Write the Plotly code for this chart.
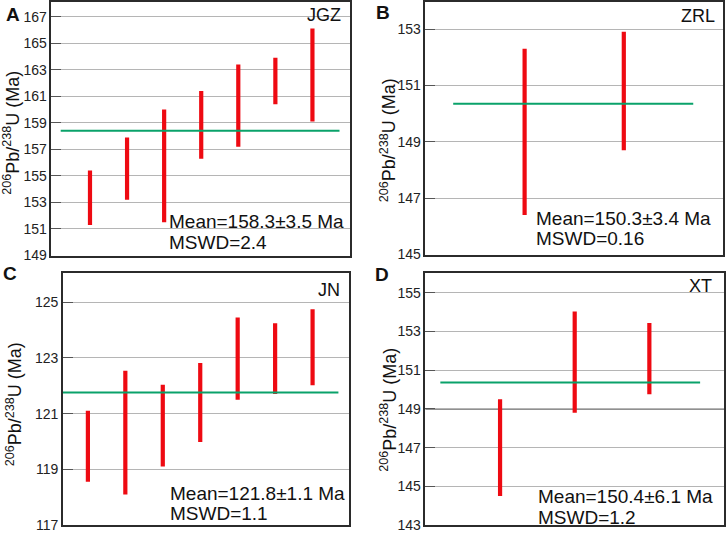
import plotly.graph_objects as go

W, H = 726, 534
FIG_H = 541  # the capture squeezes the page a little vertically
FONT = "Liberation Sans, Arial, sans-serif"

# ---- data (2-sigma age ranges, Ma) ----
jgz_lo = [151.3, 153.2, 151.5, 156.3, 157.2, 160.4, 159.1]
jgz_hi = [155.4, 157.9, 160.0, 161.4, 163.4, 163.9, 166.1]
jgz_mean = 158.4

zrl_lo = [146.4, 148.7]
zrl_hi = [152.3, 152.9]
zrl_mean = 150.35

jn_lo = [118.55, 118.1, 119.1, 119.98, 121.5, 121.7, 122.02]
jn_hi = [121.1, 122.54, 122.04, 122.82, 124.45, 124.24, 124.75]
jn_mean = 121.76

xt_lo = [144.5, 148.8, 149.76]
xt_hi = [149.5, 154.04, 153.44]
xt_mean = 150.36

panels = [
    dict(letter="A", name="JGZ", lo=jgz_lo, hi=jgz_hi, mean=jgz_mean,
         stats=["Mean=158.3±3.5 Ma", "MSWD=2.4"]),
    dict(letter="B", name="ZRL", lo=zrl_lo, hi=zrl_hi, mean=zrl_mean,
         stats=["Mean=150.3±3.4 Ma", "MSWD=0.16"]),
    dict(letter="C", name="JN", lo=jn_lo, hi=jn_hi, mean=jn_mean,
         stats=["Mean=121.8±1.1 Ma", "MSWD=1.1"]),
    dict(letter="D", name="XT", lo=xt_lo, hi=xt_hi, mean=xt_mean,
         stats=["Mean=150.4±6.1 Ma", "MSWD=1.2"]),
]

# layout of each panel in pixels: box, axis ranges, mean line extent, text spots
geom = [
    dict(box=(51.5, 350, 2, 256), xr=(-0.04, 8), yr=(149, 168.1), yt=(149, 167),
         line=(0.21, 7.73), letter=(13, 15), name=(343, 15), stats=(167, 222, 243),
         ytitle=(12, 133)),
    dict(box=(426, 724, 2, 255), xr=(0, 3), yr=(145, 153.96), yt=(145, 153),
         line=(0.28, 2.70), letter=(384, 13), name=(718, 16), stats=(535, 219, 239),
         ytitle=(389, 140)),
    dict(box=(63, 349, 274, 526), xr=(0.333, 7.96), yr=(117, 126.03), yt=(117, 125),
         line=(0.31, 7.69), letter=(10, 274), name=(342, 291), stats=(168, 494, 514),
         ytitle=(14, 405)),
    dict(box=(426, 725, 274, 526), xr=(0, 4), yr=(143, 156), yt=(143, 155),
         line=(0.2, 3.68), letter=(383, 275), name=(715, 287), stats=(537, 497, 518),
         ytitle=(389, 410)),
]


def px(x):
    return x / W


def py(y):
    return 1 - y / H


fig = go.Figure()
annotations = []

for i, (p, g) in enumerate(zip(panels, geom)):
    n = "" if i == 0 else str(i + 1)
    xa, ya = "x" + n, "y" + n
    x0, x1, y0, y1 = g["box"]

    # vertical error segments
    xs, ys = [], []
    for k, (lo, hi) in enumerate(zip(p["lo"], p["hi"])):
        xs += [k + 1, k + 1, None]
        ys += [lo, hi, None]
    fig.add_trace(go.Scatter(x=xs, y=ys, mode="lines", xaxis=xa, yaxis=ya,
                             line=dict(color="#ee0a12", width=4.2),
                             showlegend=False, hoverinfo="skip"))
    # weighted mean line
    fig.add_trace(go.Scatter(x=list(g["line"]), y=[p["mean"], p["mean"]],
                             mode="lines", xaxis=xa, yaxis=ya,
                             line=dict(color="#0aa26a", width=2),
                             showlegend=False, hoverinfo="skip"))

    ticks = list(range(g["yt"][0], g["yt"][1] + 1, 2))
    fig.layout["xaxis" + n] = dict(
        domain=[px(x0), px(x1)], range=list(g["xr"]), anchor=ya,
        showticklabels=False, ticks="", showgrid=False, zeroline=False,
        showline=True, mirror=True, linecolor="#2b2b2b", linewidth=1.6,
    )
    fig.layout["yaxis" + n] = dict(
        domain=[py(y1), py(y0)], range=list(g["yr"]), anchor=xa,
        tickvals=ticks, ticks="inside", ticklen=10, tickcolor="#555",
        tickwidth=1.2, tickfont=dict(family=FONT, size=14, color="#222"),
        showgrid=True, gridcolor="#b5b5b5", gridwidth=1.2, zeroline=False,
        showline=True, mirror=True, linecolor="#2b2b2b", linewidth=1.6,
    )

    annotations.append(dict(x=px(g["letter"][0]), y=py(g["letter"][1]),
                            xref="paper", yref="paper", text="<b>%s</b>" % p["letter"],
                            showarrow=False, xanchor="center", yanchor="middle",
                            font=dict(family=FONT, size=19, color="#111")))
    annotations.append(dict(x=px(g["name"][0]), y=py(g["name"][1]),
                            xref="paper", yref="paper", text=p["name"],
                            showarrow=False, xanchor="right", yanchor="middle",
                            font=dict(family=FONT, size=18, color="#111")))
    for line_text, yy in zip(p["stats"], g["stats"][1:]):
        annotations.append(dict(x=px(g["stats"][0]), y=py(yy),
                                xref="paper", yref="paper", text=line_text,
                                showarrow=False, xanchor="left", yanchor="middle",
                                font=dict(family=FONT, size=19, color="#111")))
    annotations.append(dict(x=px(g["ytitle"][0]), y=py(g["ytitle"][1]),
                            xref="paper", yref="paper", textangle=-90,
                            text="<sup>206</sup>Pb/<sup>238</sup>U (Ma)",
                            showarrow=False, xanchor="center", yanchor="middle",
                            font=dict(family=FONT, size=18, color="#111")))

# the 149 Ma grid line in panel D is drawn dark in the original
fig.add_shape(type="line", xref="x4 domain", yref="y4", x0=0, x1=1, y0=149, y1=149,
              line=dict(color="#222", width=1.2), layer="below")

fig.update_layout(
    width=W, height=FIG_H, margin=dict(l=0, r=0, t=0, b=0),
    paper_bgcolor="white", plot_bgcolor="white",
    annotations=annotations, showlegend=False,
)

# drop the browser's default page margin / scrolling so pixels line up
page_js = (
    "document.documentElement.style.margin='0';"
    "document.documentElement.style.overflow='hidden';"
    "document.body.style.margin='0';"
    "document.body.style.overflow='hidden';"
)
fig.write_html("out.html", post_script=page_js, config={"displayModeBar": False})
